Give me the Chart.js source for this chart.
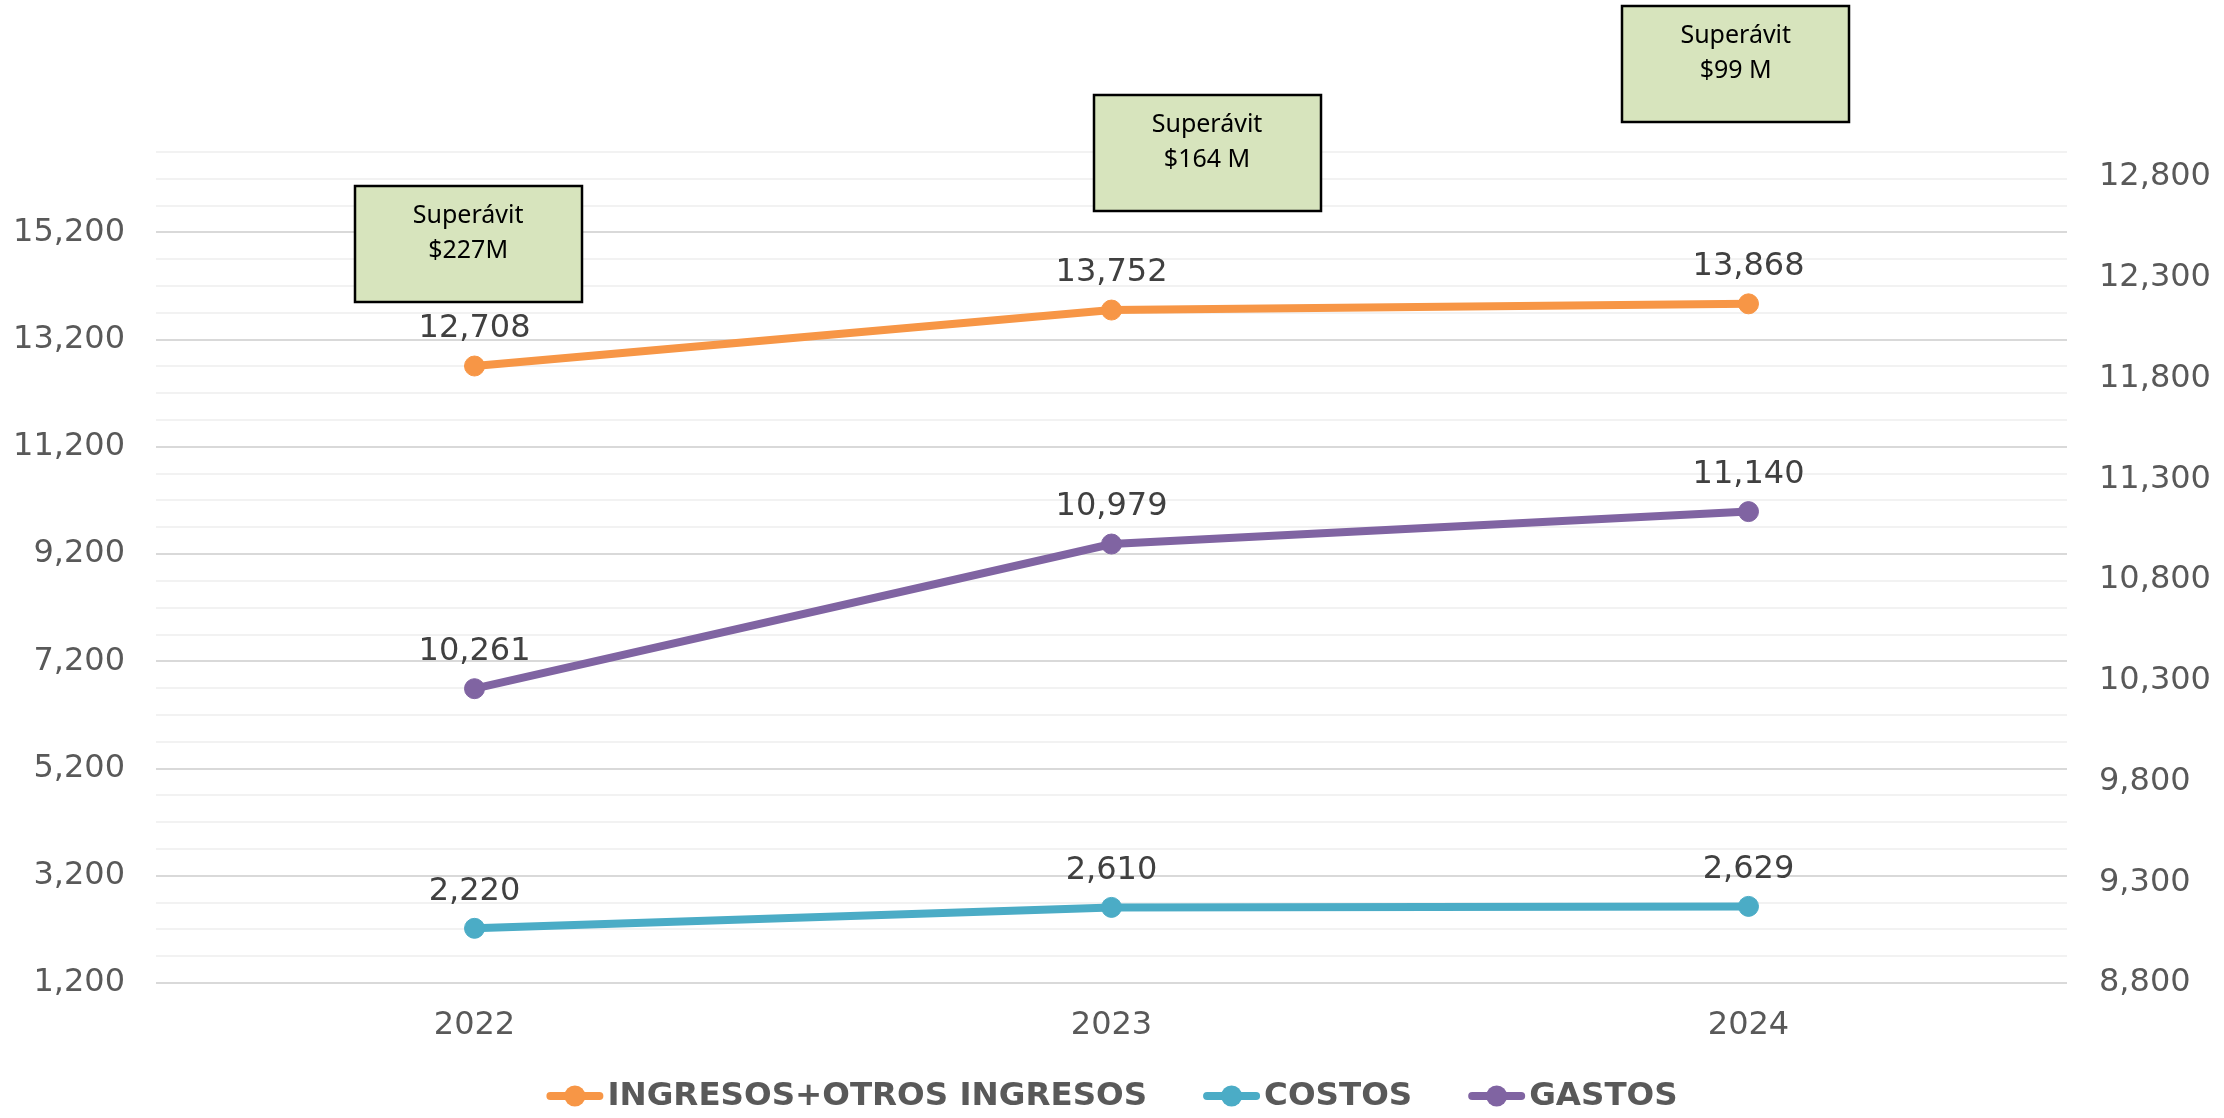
<!DOCTYPE html>
<html>
<head>
<meta charset="utf-8">
<title>Ingresos, costos y gastos 2022-2024</title>
<script src="https://cdn.jsdelivr.net/npm/chart.js@4.4.1/dist/chart.umd.min.js"></script>
<style>
  html, body { margin: 0; padding: 0; background: #ffffff; }
  #wrap { width: 2224px; height: 1118px; }
</style>
</head>
<body>
<div id="wrap"><canvas id="chart"></canvas></div>
<script>
// data
const years = ['2022', '2023', '2024'];
const ingresos = [12708, 13752, 13868];   // left axis
const costos = [2220, 2610, 2629];        // left axis
const gastos = [10261, 10979, 11140];     // right axis

const leftMajorTicks = [1200, 3200, 5200, 7200, 9200, 11200, 13200, 15200];
const rightTicks = [8800, 9300, 9800, 10300, 10800, 11300, 11800, 12300, 12800];
const surplusLabels = [['Superávit', '$227M'], ['Superávit', '$164 M'], ['Superávit', '$99 M']];

const FONT = '"DejaVu Sans", sans-serif';
const fmt = v => v.toLocaleString('en-US');

// Data labels above every point
const valueLabels = {
    id: 'valueLabels',
    afterDatasetsDraw(chart) {
        const ctx = chart.ctx;
        ctx.save();
        ctx.font = '32px ' + FONT;
        ctx.fillStyle = '#404040';
        ctx.textAlign = 'center';
        ctx.textBaseline = 'middle';
        chart.data.datasets.forEach((ds, i) => {
            chart.getDatasetMeta(i).data.forEach((pt, j) => {
                ctx.fillText(fmt(ds.data[j]), pt.x, pt.y - 37);
            });
        });
        ctx.restore();
    }
};

// "Superávit" call-out boxes, anchored in category units / left-axis values
const surplusBoxes = {
    id: 'surplusBoxes',
    afterDraw(chart, args, opts) {
        const ctx = chart.ctx;
        const xs = chart.scales.x, ys = chart.scales.y;
        const step = xs.getPixelForValue(1) - xs.getPixelForValue(0);
        ctx.save();
        surplusLabels.forEach((lines, i) => {
            const a = opts.anchors[i];
            const cx = xs.getPixelForValue(0) + a.x * step;
            const cy = ys.getPixelForValue(a.y);
            const w = 227, h = 116;
            const left = Math.round(cx - w / 2), top = Math.round(cy - h / 2);
            ctx.fillStyle = '#d7e4bd';
            ctx.fillRect(left, top, w, h);
            ctx.lineWidth = 2.5;
            ctx.strokeStyle = '#000000';
            ctx.strokeRect(left, top, w, h);
            ctx.fillStyle = '#000000';
            ctx.font = '25px "Noto Sans", sans-serif';
            ctx.textAlign = 'center';
            ctx.textBaseline = 'middle';
            lines.forEach((t, k) => ctx.fillText(t, cx, top + 30 + k * 35));
        });
        ctx.restore();
    }
};

// Excel-style legend: line with a dot, bold grey text
const lineLegend = {
    id: 'lineLegend',
    afterDraw(chart) {
        const ctx = chart.ctx;
        const markW = 57, gap = 4, itemGap = 56;
        ctx.save();
        ctx.font = 'bold 32.5px ' + FONT;
        const items = chart.data.datasets.map(ds => ({
            label: ds.label, color: ds.borderColor,
            w: markW + gap + ctx.measureText(ds.label).width
        }));
        const total = items.reduce((s, it) => s + it.w, 0) + itemGap * (items.length - 1);
        let x = (chart.width - total) / 2;
        const y = chart.height - 22;
        items.forEach(it => {
            ctx.strokeStyle = it.color;
            ctx.lineWidth = 8;
            ctx.lineCap = 'round';
            ctx.beginPath();
            ctx.moveTo(x + 4, y);
            ctx.lineTo(x + markW - 4, y);
            ctx.stroke();
            ctx.fillStyle = it.color;
            ctx.beginPath();
            ctx.arc(x + markW / 2, y, 10.5, 0, Math.PI * 2);
            ctx.fill();
            ctx.fillStyle = '#595959';
            ctx.textAlign = 'left';
            ctx.textBaseline = 'middle';
            ctx.fillText(it.label, x + markW + gap, y + 1);
            x += it.w + itemGap;
        });
        ctx.restore();
    }
};

function lineSet(label, data, color, axis) {
    return {
        label: label,
        data: data,
        yAxisID: axis,
        borderColor: color,
        backgroundColor: color,
        borderWidth: 8,
        pointRadius: 10,
        pointBorderWidth: 1,
        pointBackgroundColor: color,
        pointBorderColor: color,
        tension: 0,
        clip: false
    };
}

new Chart(document.getElementById('chart'), {
    type: 'line',
    data: {
        labels: years,
        datasets: [
            lineSet('INGRESOS+OTROS INGRESOS', ingresos, '#f79646', 'y'),
            lineSet('COSTOS', costos, '#4bacc6', 'y'),
            lineSet('GASTOS', gastos, '#8064a2', 'y1')
        ]
    },
    options: {
        responsive: true,
        maintainAspectRatio: false,
        animation: false,
        layout: { padding: { top: 152, bottom: 55, left: 0, right: 0 } },
        plugins: {
            legend: { display: false },
            tooltip: { enabled: false },
            surplusBoxes: {
                anchors: [
                    { x: -0.01, y: 14975 },
                    { x: 1.15, y: 16690 },
                    { x: 1.98, y: 18350 }
                ]
            }
        },
        scales: {
            x: {
                offset: true,
                grid: { display: false, drawTicks: false },
                border: { display: false },
                ticks: { color: '#595959', font: { family: FONT, size: 32 }, padding: 23 },
                afterFit(scale) { scale.height = 80; }
            },
            y: {
                position: 'left',
                min: 1200,
                max: 16700,
                border: { display: false },
                grid: {
                    drawTicks: false,
                    lineWidth: 2,
                    color: c => leftMajorTicks.includes(c.tick.value) ? '#d9d9d9' : '#f2f2f2'
                },
                afterBuildTicks(scale) {
                    const t = [];
                    for (let v = 1200; v <= 16700; v += 500) t.push({ value: v });
                    scale.ticks = t;
                },
                ticks: {
                    autoSkip: false,
                    color: '#595959',
                    font: { family: FONT, size: 32 },
                    padding: 31,
                    callback: v => leftMajorTicks.includes(v) ? fmt(v) : ''
                },
                afterFit(scale) { scale.width = 156; }
            },
            y1: {
                position: 'right',
                min: 8800,
                max: 12925,
                border: { display: false },
                grid: { display: false, drawTicks: false },
                afterBuildTicks(scale) { scale.ticks = rightTicks.map(v => ({ value: v })); },
                ticks: {
                    autoSkip: false,
                    color: '#595959',
                    font: { family: FONT, size: 32 },
                    padding: 32,
                    callback: v => fmt(v)
                },
                afterFit(scale) { scale.width = 157; }
            }
        }
    },
    plugins: [valueLabels, surplusBoxes, lineLegend]
});
</script>
</body>
</html>
